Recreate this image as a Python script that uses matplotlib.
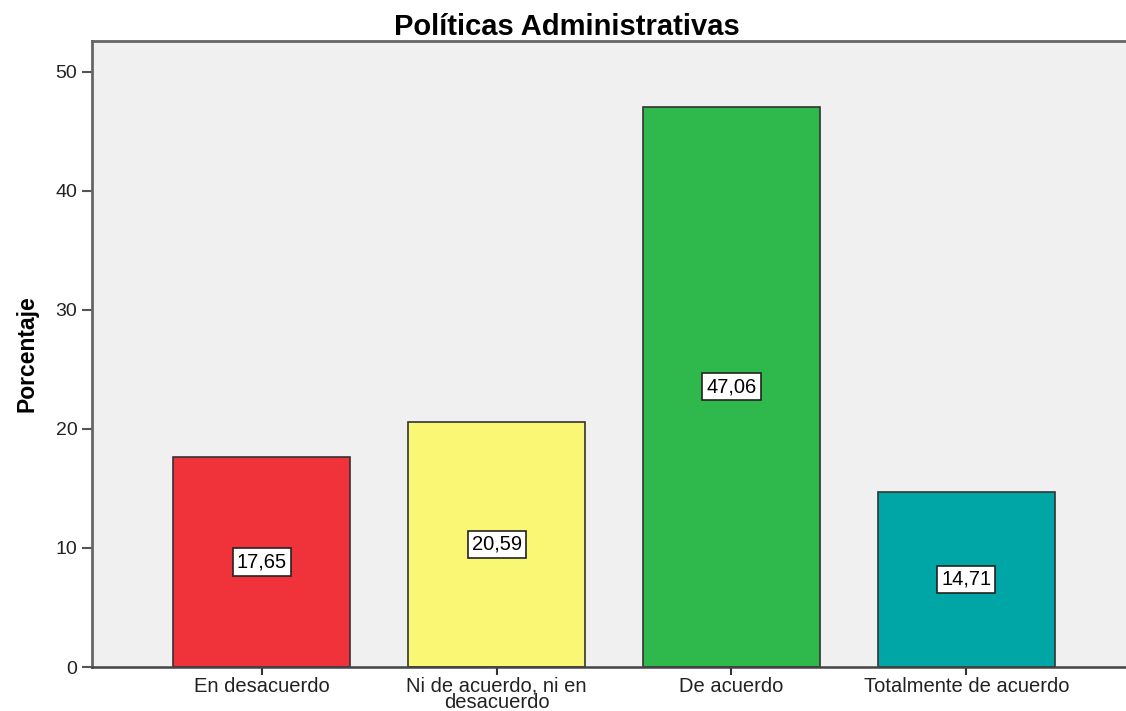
import matplotlib.pyplot as plt
import numpy as np

plt.rcParams["font.family"] = ["Liberation Sans", "DejaVu Sans"]

categories = ["En desacuerdo", "Ni de acuerdo, ni en\ndesacuerdo",
              "De acuerdo", "Totalmente de acuerdo"]
values = [17.65, 20.59, 47.06, 14.71]
labels = ["17,65", "20,59", "47,06", "14,71"]
colors = ["#f0323a", "#faf775", "#2fb84b", "#00a5a5"]

fig = plt.figure(figsize=(11.26, 7.11), dpi=100)
ax = fig.add_axes([92 / 1126, 44 / 711, 1 - 92 / 1126, 626 / 711])
ax.set_facecolor("#f0f0f0")

x = np.arange(len(categories))
ax.bar(x, values, width=0.753, color=colors, edgecolor="#333333", linewidth=1.2, zorder=2)

for xi, v, lab in zip(x, values, labels):
    ax.text(xi, v / 2, lab, ha="center", va="center", fontsize=14.5, zorder=3,
            bbox=dict(boxstyle="square,pad=0.2", facecolor="white", edgecolor="#222222", linewidth=1.2))

ax.set_xlim(-0.723, 3.68)
ax.set_ylim(0, 52.6)
ax.set_yticks([0, 10, 20, 30, 40, 50])
ax.set_xticks(x)
ax.set_xticklabels(categories, fontsize=14.5, linespacing=0.85)
ax.tick_params(axis="y", labelsize=14, length=7, width=1.5, color="#555555", labelcolor="#222222")
ax.tick_params(axis="x", length=6, width=1.5, color="#333333", labelcolor="#222222", pad=1)

for side in ["left", "top"]:
    ax.spines[side].set_color("#666666")
    ax.spines[side].set_linewidth(2)
ax.spines["bottom"].set_color("#444444")
ax.spines["bottom"].set_linewidth(1.8)
ax.spines["right"].set_visible(False)

ax.set_ylabel("Porcentaje", fontsize=16.5, fontweight="bold", labelpad=12)
fig.suptitle("Políticas Administrativas", fontsize=21, fontweight="bold", x=0.503, y=0.982, va="top")

fig.savefig("out.png", dpi=100)
